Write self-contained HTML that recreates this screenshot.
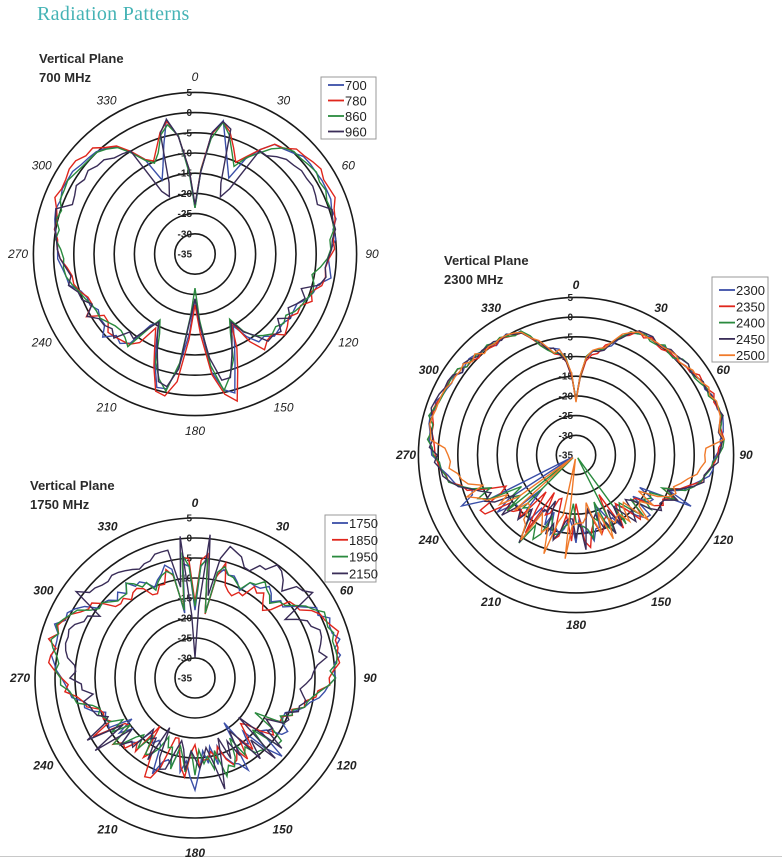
<!DOCTYPE html>
<html><head><meta charset="utf-8">
<style>
html,body{margin:0;padding:0;background:#fff;}
body{width:782px;height:859px;overflow:hidden;position:relative;font-family:"Liberation Sans",sans-serif;}
.title{position:absolute;left:37px;top:3px;font-family:"Liberation Serif",serif;font-size:20px;color:#45b3b5;letter-spacing:0.3px;}
.h{position:absolute;font-weight:bold;font-size:13px;color:#2a2a2a;line-height:19px;}
svg{position:absolute;left:0;top:0;}
.bar{position:absolute;left:0;top:856px;width:782px;height:1px;background:#c8c8c8;}
</style></head><body>
<div class="title">Radiation Patterns</div>
<div class="h" style="left:39px;top:49px">Vertical Plane<br>700 MHz</div>
<div class="h" style="left:444px;top:251px">Vertical Plane<br>2300 MHz</div>
<div class="h" style="left:30px;top:476px">Vertical Plane<br>1750 MHz</div>
<div class="bar"></div>
<svg id="s" width="782" height="859" xmlns="http://www.w3.org/2000/svg"></svg>
<script>
var NS="http://www.w3.org/2000/svg",S=document.getElementById('s');
function el(t,a,txt){var e=document.createElementNS(NS,t);for(var k in a)e.setAttribute(k,a[k]);if(txt!=null)e.textContent=txt;S.appendChild(e);return e;}
function mb(a){return function(){a|=0;a=a+0x6D2B79F5|0;var t=Math.imul(a^a>>>15,1|a);t=t+Math.imul(t^t>>>7,61|t)^t;return((t^t>>>14)>>>0)/4294967296;}}
function interp(keys,a){if(a>180)a=360-a;for(var i=1;i<keys.length;i++){if(a<=keys[i][0]){var k0=keys[i-1],k1=keys[i];var f=(a-k0[0])/(k1[0]-k0[0]);return k0[1]+f*(k1[1]-k0[1]);}}return keys[keys.length-1][1];}
function plot(c){
 var cx=c.cx,cy=c.cy,s=c.s;
 for(var k=1;k<=8;k++)el('circle',{cx:cx,cy:cy,r:k*s,fill:'none',stroke:'#1a1a1a','stroke-width':1.6});
 var labs=['-35','-30','-25','-20','-15','-10','-5','0','5'];
 for(var k=0;k<=8;k++)el('text',{x:cx-3,y:cy-k*s+3.5,'text-anchor':'end','font-size':10,'font-weight':'bold',fill:'#222','font-family':'Liberation Sans,sans-serif'},labs[k]);
 for(var a=0;a<360;a+=30){var t=a*Math.PI/180;el('text',{x:cx+c.lr*Math.sin(t),y:cy-c.lr*Math.cos(t)+4,'text-anchor':'middle','font-size':12,'font-style':'italic','font-weight':c.bold?'bold':'normal',fill:'#222','font-family':'Liberation Sans,sans-serif'},String(a));}
 var rnd=mb(c.seed);
 c.curves.forEach(function(cv){
  var pts=[];
  for(var a=0;a<360;a+=c.step){
   var d=interp(c.keys,a)+(cv.off?cv.off(a>180?360-a:a,a):0);
   var aa=a>180?360-a:a;
   var amp=aa>c.noisyFrom?c.lowAmp:c.upAmp;
   var n=(rnd()*2-1)*amp;
   if(aa>c.noisyFrom&&rnd()<c.spk)n+=(rnd()<0.5?-1:1)*amp*1.3;
   if(aa>c.noisyFrom&&c.deep&&rnd()<0.012)n=-40;
   d+=n;if(d>5.5)d=5.5;if(d<-34)d=-34;
   var r=(d+35)*s/5,t=a*Math.PI/180;
   pts.push((cx+r*Math.sin(t)).toFixed(1)+','+(cy-r*Math.cos(t)).toFixed(1));
  }
  el('polygon',{points:pts.join(' '),fill:'none',stroke:cv.col,'stroke-width':1.4,'stroke-linejoin':'miter'});
 });
 var L=c.leg,lh=L.lh;
 el('rect',{x:L.x,y:L.y,width:L.w,height:L.h,fill:'#fff',stroke:'#999','stroke-width':1});
 c.curves.forEach(function(cv,i){var y=L.y+L.t+i*lh;
  el('line',{x1:L.x+7,y1:y,x2:L.x+23,y2:y,stroke:cv.col,'stroke-width':1.8});
  el('text',{x:L.x+24,y:y+5,'font-size':13,fill:'#222','font-family':'Liberation Sans,sans-serif'},cv.name);});
}
var B='#3b4fa8',R='#e0261c',G='#2a8a3e',P='#3a2d58',O='#f07a2a';
plot({cx:195,cy:254,s:20.2,lr:177,bold:false,seed:7,step:4,noisyFrom:95,upAmp:0.6,lowAmp:1.2,spk:0.3,
 keys:[[0,-23],[4,-14],[9,-3],[13,-1],[18,-5],[23,-11],[28,-8],[35,-2],[45,0.5],[55,1.5],[65,1.5],[75,0.5],[85,-0.5],[95,-2],[105,-4],[115,-6],[125,-7],[135,-7],[145,-9],[152,-16],[158,-10],[163,-2],[168,-1],[173,-8],[178,-24],[180,-25]],
 curves:[{name:'700',col:B,off:function(a){return a<28&&a>14?-4:0;}},
 {name:'780',col:R,off:function(a){return a>140?2:(a>40&&a<70?0.8:0);}},
 {name:'860',col:G,off:function(a){return -0.5;}},
 {name:'960',col:P,off:function(a){return (a>16&&a<32)?-9:(a>35&&a<70?-3:(a>140&&a<175?-1:0));}}],
 leg:{x:321,y:77,w:55,h:62,t:8,lh:15.5}});
plot({cx:576,cy:455,s:19.7,lr:170,bold:true,seed:11,step:3,noisyFrom:108,upAmp:0.8,lowAmp:3.5,spk:0.25,deep:true,
 keys:[[0,-21],[3,-15],[7,-9],[12,-8],[17,-6],[22,-2],[28,0],[35,0],[45,0.5],[55,1.5],[65,2.5],[75,3],[85,2],[95,0],[103,-3],[110,-8],[118,-12],[128,-14],[140,-16],[160,-16],[180,-16]],
 curves:[{name:'2300',col:B},{name:'2350',col:R},{name:'2400',col:G},{name:'2450',col:P},{name:'2500',col:O,off:function(a){return a>85&&a<110?-3:0;}}],
 leg:{x:712,y:277,w:56,h:85,t:13,lh:16.3}});
plot({cx:195,cy:678,s:20,lr:175,bold:true,seed:23,step:3,noisyFrom:118,upAmp:1.3,lowAmp:3.5,spk:0.25,
 keys:[[0,-17],[3,-6],[6,-5],[9,-18],[13,-5],[18,-8],[25,-10],[35,-6],[45,-8],[55,-4],[62,0],[70,2],[80,1.5],[90,-1],[100,-5],[110,-10],[120,-11],[130,-12],[140,-14],[160,-14],[180,-15]],
 curves:[{name:'1750',col:B},{name:'1850',col:R,off:function(a){return a>15&&a<50?-2:0;}},{name:'1950',col:G},
 {name:'2150',col:P,off:function(a){return a<4?-12:(a<55?5:(a<100?-4:0));}}],
 leg:{x:325,y:515,w:51,h:67,t:8,lh:16.8}});
</script>
</body></html>
